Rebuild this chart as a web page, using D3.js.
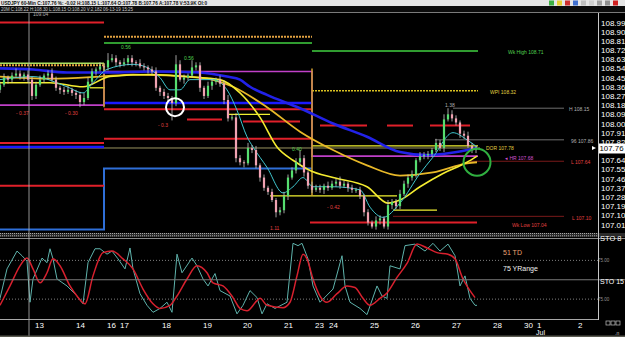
<!DOCTYPE html>
<html>
<head>
<meta charset="utf-8">
<style>
body { margin: 0; background: #000; }
svg { display: block; font-family: "Liberation Sans", Arial, sans-serif; }
</style>
</head>
<body>
<svg id="chart" width="625" height="337"></svg>
<script src="https://d3js.org/d3.v7.min.js"></script>
<script>
// ---- data (USDJPY 60 min, 2-hour steps) ----
const firstOpen = 108.33;
const closes = [
  108.38,108.45,108.43,108.47,108.49,108.46,108.48,108.43,108.27,108.38,
  108.43,108.47,108.49,108.43,108.35,108.33,108.31,108.33,108.30,108.28,
  108.21,108.25,108.41,108.51,108.53,108.56,108.55,108.62,108.64,108.60,
  108.58,108.60,108.64,108.60,108.59,108.56,108.55,108.53,108.51,108.35,
  108.31,108.27,108.25,108.20,108.58,108.43,108.45,108.47,108.55,108.57,
  108.35,108.27,108.37,108.41,108.43,108.39,108.23,108.05,108.06,107.66,
  107.62,107.61,107.76,107.74,107.59,107.47,107.37,107.33,107.25,107.13,
  107.15,107.29,107.47,107.54,107.62,107.66,107.52,107.39,107.35,107.37,
  107.35,107.39,107.37,107.41,107.43,107.39,107.41,107.37,107.35,107.35,
  107.29,107.13,107.03,106.99,107.05,107.07,106.99,107.20,107.23,107.19,
  107.31,107.41,107.47,107.50,107.64,107.68,107.69,107.70,107.74,107.81,
  107.76,108.04,108.09,108.05,108.01,107.90,107.88,107.78,107.74,107.76
];
// wicks in pips
const wickUp = [
  3,4,2,3,5,3,2,4,3,3, 4,2,3,5,3,2,3,4,2,3, 3,5,4,3,2,4,3,7,4,3,
  2,4,3,3,2,4,3,2,3,4, 2,3,3,2,9,4,3,2,7,3, 3,2,4,3,2,4,3,5,3,4,
  3,2,5,3,4,2,3,2,3,2, 3,4,3,3,4,8,3,2,4,3, 3,2,4,3,3,5,3,2,3,2,
  3,2,3,2,4,3,2,5,3,3, 4,3,3,4,2,4,3,3,2,4, 3,5,6,4,3,2,3,4,3,2
];
const wickDn = [
  3,2,4,3,2,3,4,3,4,3, 2,3,4,2,3,4,3,2,3,4, 5,3,2,3,4,2,3,3,2,4,
  3,2,3,4,3,2,3,4,3,3, 4,3,3,17,3,2,4,3,2,3, 4,3,2,4,3,3,4,3,2,4,
  3,4,2,3,3,4,3,3,2,5, 3,3,4,2,3,3,4,3,3,2, 3,4,3,2,3,3,2,4,3,3,
  3,4,3,2,3,4,2,3,4,3, 3,2,4,3,3,2,3,4,3,2, 3,4,2,3,3,4,3,2,3,3
];

// moving averages [bar, price]
const maBlue = [[0,108.54],[8.25,108.53],[16.75,108.50],[27.5,108.50],[37.5,108.51],[50,108.50],[56.75,108.46],[60,108.43],[62.5,108.36],[66.75,108.28],[75,108.15],[83.25,108.00],[91.75,107.87],[100,107.72],[106.75,107.69],[112.5,107.71],[119.25,107.76]];
const maGold = [[0,108.46],[12.5,108.44],[25,108.46],[33.25,108.48],[50,108.45],[58.25,108.36],[66.75,108.16],[75,107.92],[83.25,107.74],[91.75,107.59],[100,107.49],[108.25,107.52],[116.75,107.61],[119.25,107.62]];
const maYellow = [[0,108.40],[12.5,108.40],[20.75,108.36],[27.5,108.46],[37.5,108.48],[50,108.45],[55,108.43],[60,108.30],[65,108.06],[69.25,107.77],[73.25,107.64],[77.5,107.54],[83.25,107.47],[91.75,107.38],[97,107.22],[100,107.25],[105,107.38],[110.75,107.51],[116.75,107.62],[119.25,107.68]];
const maCyan = [[0,108.43],[8.25,108.46],[16.75,108.36],[20.75,108.30],[23.25,108.40],[26.75,108.53],[33.25,108.58],[36.75,108.55],[40,108.45],[42.5,108.33],[45,108.33],[47.5,108.43],[53.25,108.43],[56.75,108.33],[59.25,108.13],[61.75,107.87],[63.25,107.77],[66.75,107.57],[70.75,107.32],[73.25,107.38],[75.75,107.47],[78.25,107.38],[83.25,107.38],[90,107.35],[92.5,107.18],[95.75,107.08],[100,107.22],[105,107.51],[108.25,107.67],[113.25,107.91],[116.75,107.84],[119.25,107.77]];

// horizontal levels [fromBar, toBar, price]
const redLevels = [[0,26,108.99],[0,26,107.81],[0,26,107.39],[26,78,108.14],[26,78,107.85],[46.75,55.5,108.04],[60.75,75,108.02],[80,91.75,107.98],[96.75,103.25,107.98],[107.5,117.5,107.98],[77.5,119.25,107.03]];
const darkRedLevels = [[98.25,141,107.09],[117.5,141,107.63]];
const blueLevels = [[0,26,107.77],[26,78,108.20]];
const greenLevels = [[26,78,108.79],[78,119.5,108.71]];
const limeLevels = [[0,26,108.59]];
const orangeDotLevels = [[26,78,108.85],[0,26,108.57]];
const yellowDotLevels = [[78,119.5,108.32]];
const yellowLevels = [[56.75,67.5,108.09],[67.5,99.25,107.29],[98.25,109.25,107.15],[22.5,26.25,108.35],[78,119.5,107.78]];
const khakiLevels = [[0,120,107.76]];
const grayLevels = [[113.25,141,108.15],[108.75,141,107.84]];
const magentaStep = [[0,108.18],[26,108.51],[78,107.68],[119.5,107.68]];
const lightBlueStep = [[0,106.96],[26,107.56],[78,107.56]];
const orangeVerticals = [[26,108.59,108.16],[78,108.54,107.29]];

// text notes [bar, price, text, kind]
const notes = [
  [8.25,109.07,"109.04","gray"],[4,108.10,"- 0.37","red"],[16.25,108.10,"- 0.30","red"],
  [30.25,108.75,"0.56","green"],[46,108.64,"0.56","green"],[39.5,107.99,"- 0.3","red"],
  [73,107.75,"0.40","green"],[81.75,107.18,"- 0.42","red"],[67.5,106.98,"1.11","red"],
  [111.25,108.18,"1.38","gray"],[127,108.70,"Wk High 108.71","green"],
  [122.5,108.31,"WPI 108.32","yellow"],[142.25,108.14,"H 108.15","gray"],
  [142.75,107.83,"96 107.86","gray"],[121.5,107.76,"DOR 107.78","yellow"],
  [126.25,107.66,"\u25C2 HR 107.68","magenta"],[142.75,107.62,"L 107.64","red"],
  [143,107.07,"L 107.10","red"],[128,107.01,"Wk Low 107.04","red"]
];

// 107.73 sits behind the last-price tag in the reference
const priceTicks = [108.99,108.90,108.81,108.72,108.63,108.54,108.45,108.36,108.27,108.18,108.09,108.00,107.91,107.82,107.64,107.55,107.46,107.37,107.28,107.19,107.10,107.01];
const lastPrice = 107.76;

const dayTicks = [8.75,19,26.75,30,40.5,50.75,60.75,71,78.75,82.25,92.5,102.75,113,123.25,131,134.25,144.5];
const dayLabels = ["13","14","16","17","18","19","20","21","23","24","25","26","27","28","30","1","2"];
const crossBar = 7.25;

// stochastic [bar, value]
const stoFast = [[0,26],[1.75,64],[4.25,87],[5.5,81],[6.75,74],[7.5,21],[8.25,51],[10.5,78],[11.75,72],[12.5,90],[13.25,77],[14.25,51],[16.75,42],[19.25,29],[20.75,19],[22,72],[23.75,90],[25,90],[26.75,83],[28,87],[29.5,77],[31.25,64],[32.5,91],[33.25,64],[35,32],[36.75,17],[38.25,8],[40,13],[41.75,21],[43,8],[44.25,83],[45.5,59],[48,78],[49.25,68],[50.75,51],[52,42],[53.75,58],[55,36],[57.5,29],[59.25,6],[60.75,17],[62.5,36],[64.25,27],[65.5,6],[66.75,19],[68.75,13],[71.75,21],[73.25,97],[74.5,94],[75.5,97],[77,77],[78.25,42],[80,21],[83.25,38],[85.5,81],[86.25,42],[87.5,21],[90,13],[91.75,5],[94.25,42],[95.5,29],[96.75,26],[97.5,68],[100,64],[101.25,94],[103.75,96],[106.25,87],[108.25,97],[110,87],[112,96],[113.75,81],[115,42],[116.25,55],[117.5,26],[118.75,17],[119.25,17]];
const stoSlow = [[0,17],[2.5,42],[5,68],[6.75,78],[8.25,64],[10,46],[11.75,59],[13.25,77],[15,68],[17.5,42],[19.25,29],[21.25,19],[23.25,55],[25.75,85],[28,87],[30.75,77],[33.25,64],[35.75,38],[38.25,19],[40,13],[42.5,17],[44.25,29],[46.75,51],[49.25,68],[51.75,59],[53.25,46],[55.75,42],[58.25,27],[60,13],[61.75,10],[64.25,23],[65,26],[66.75,17],[70.75,14],[72.5,21],[74.25,55],[75.75,83],[76.75,77],[78.25,51],[80,29],[81.75,21],[84.25,32],[86.75,42],[88.75,40],[90.75,26],[92.5,17],[95,26],[96.75,33],[99.25,53],[101.75,71],[104.25,96],[106.75,91],[109.25,85],[112,83],[113.75,77],[115.75,51],[117.5,36],[118.75,27]];
const stoLevels = [75, 25];
const stoMid = 50;

const toolbarColors = ["#3cb043","#e8d030","#d03030","#4070d0","#c0c0c0","#d0d0d0","#a0a0a0","#909090","#d02020"];

// ---- scales ----
const svg = d3.select("#chart");
const axisX = 598;
const x = d3.scaleLinear().domain([0, 149.5]).range([0, axisX]);
const y = d3.scaleLinear().domain([107.01, 108.99]).range([224.5, 22.5]);
const yo = d3.scaleLinear().domain([0, 100]).range([318.5, 241]);

const noteColor = { red: "#e04040", green: "#50d050", gray: "#b0b0b0", yellow: "#e0d040", magenta: "#d050d0" };

svg.append("rect").attr("width", 625).attr("height", 337).attr("fill", "#000");

const defs = svg.append("defs");
defs.append("clipPath").attr("id", "mainclip").append("rect")
  .attr("x", 0).attr("y", 13).attr("width", axisX).attr("height", 220);
defs.append("clipPath").attr("id", "oscclip").append("rect")
  .attr("x", 0).attr("y", 240).attr("width", axisX).attr("height", 79);

const main = svg.append("g").attr("clip-path", "url(#mainclip)");
const osc = svg.append("g").attr("clip-path", "url(#oscclip)");

drawLevels();
drawMAs();
drawCandles();
drawNotes();
drawOsc();
drawAxes();
drawHeader();

function levelGroup(data, color, width, dash) {
  main.append("g").selectAll("line").data(data).enter().append("line")
    .attr("x1", d => x(d[0])).attr("x2", d => x(d[1]))
    .attr("y1", d => y(d[2])).attr("y2", d => y(d[2]))
    .attr("stroke", color).attr("stroke-width", width)
    .attr("stroke-dasharray", dash || null);
}

function drawLevels() {
  const step = d3.line().x(d => x(d[0])).y(d => y(d[1])).curve(d3.curveStepAfter);
  main.append("path").datum(lightBlueStep).attr("d", step)
    .attr("fill", "none").attr("stroke", "#2f6fd8").attr("stroke-width", 2);
  main.append("path").datum(magentaStep).attr("d", step)
    .attr("fill", "none").attr("stroke", "#c040c8").attr("stroke-width", 1.6);

  levelGroup(khakiLevels, "#9a9460", 1);
  levelGroup(grayLevels, "#8c8c8c", 0.8);
  levelGroup(darkRedLevels, "#7a1a1a", 1);
  levelGroup(blueLevels, "#1a1aff", 2.5);
  levelGroup(redLevels, "#e0202a", 2);
  levelGroup(greenLevels, "#40d040", 1.5);
  levelGroup(limeLevels, "#a8e060", 1.5);
  levelGroup(orangeDotLevels, "#e0a040", 2, "2,1");
  levelGroup(yellowDotLevels, "#d8c020", 1.5, "2,1");
  levelGroup(yellowLevels, "#f0f030", 1.3);

  main.append("g").selectAll("line").data(orangeVerticals).enter().append("line")
    .attr("x1", d => x(d[0])).attr("x2", d => x(d[0]))
    .attr("y1", d => y(d[1])).attr("y2", d => y(d[2]))
    .attr("stroke", "#d0a030").attr("stroke-width", 1.5);
}

function drawMAs() {
  const smooth = d3.line().x(d => x(d[0])).y(d => y(d[1])).curve(d3.curveMonotoneX);
  main.append("path").datum(maBlue).attr("d", smooth)
    .attr("fill", "none").attr("stroke", "#2222e8").attr("stroke-width", 2.6);
  main.append("path").datum(maGold).attr("d", smooth)
    .attr("fill", "none").attr("stroke", "#e8b828").attr("stroke-width", 1.8);
  main.append("path").datum(maYellow).attr("d", smooth)
    .attr("fill", "none").attr("stroke", "#f4ec30").attr("stroke-width", 1.6);
  main.append("path").datum(maCyan).attr("d", smooth)
    .attr("fill", "none").attr("stroke", "#40c8d0").attr("stroke-width", 1);
}

function drawCandles() {
  const bars = closes.map((c, i) => {
    const o = i === 0 ? firstOpen : closes[i - 1];
    return { i: i, o: o, c: c,
      h: Math.max(o, c) + wickUp[i] / 100,
      l: Math.min(o, c) - wickDn[i] / 100 };
  });
  const col = d => d.c >= d.o ? "#56de70" : "#f0a2b2";
  const g = main.append("g");
  g.selectAll("line").data(bars).enter().append("line")
    .attr("x1", d => x(d.i)).attr("x2", d => x(d.i))
    .attr("y1", d => y(d.h)).attr("y2", d => y(d.l))
    .attr("stroke", "#c8c8c8").attr("stroke-width", 0.8);
  g.selectAll("rect").data(bars).enter().append("rect")
    .attr("x", d => x(d.i) - 1.1).attr("width", 2.2)
    .attr("y", d => y(Math.max(d.o, d.c)))
    .attr("height", d => Math.max(1, Math.abs(y(d.o) - y(d.c))))
    .attr("fill", col);

  // highlight circles
  main.append("circle").attr("cx", x(43.75)).attr("cy", y(108.16)).attr("r", 9)
    .attr("fill", "none").attr("stroke", "#fff").attr("stroke-width", 2);
  main.append("circle").attr("cx", x(119.25)).attr("cy", y(107.62)).attr("r", 13.5)
    .attr("fill", "none").attr("stroke", "#30b040").attr("stroke-width", 2);
}

function drawNotes() {
  svg.append("g").selectAll("text").data(notes).enter().append("text")
    .attr("x", d => x(d[0])).attr("y", d => y(d[1]) + 2)
    .attr("font-size", "5px")
    .attr("fill", d => noteColor[d[3]])
    .text(d => d[2]);
}

function drawOsc() {
  // separator band
  svg.append("rect").attr("x", 0).attr("y", 233).attr("width", 625).attr("height", 4).attr("fill", "#2a2a2a");
  [233.5, 235.8].forEach(v => svg.append("line").attr("x1", 0).attr("x2", axisX).attr("y1", v).attr("y2", v)
    .attr("stroke", "#a8a8a8").attr("stroke-width", 1).attr("stroke-dasharray", "1,1"));
  svg.append("line").attr("x1", 0).attr("x2", 625).attr("y1", 238.5).attr("y2", 238.5)
    .attr("stroke", "#8a8a8a").attr("stroke-width", 1);

  osc.selectAll("line.lv").data(stoLevels).enter().append("line")
    .attr("x1", 0).attr("x2", axisX)
    .attr("y1", d => yo(d)).attr("y2", d => yo(d))
    .attr("stroke", "#a0a0a0").attr("stroke-width", 0.8).attr("stroke-dasharray", "1,2");
  svg.append("line").attr("x1", 0).attr("x2", 625)
    .attr("y1", yo(stoMid)).attr("y2", yo(stoMid))
    .attr("stroke", "#7a7a7a").attr("stroke-width", 1);

  const lf = d3.line().x(d => x(d[0])).y(d => yo(d[1])).curve(d3.curveLinear);
  const ls = d3.line().x(d => x(d[0])).y(d => yo(d[1])).curve(d3.curveMonotoneX);
  osc.append("path").datum(stoFast).attr("d", lf)
    .attr("fill", "none").attr("stroke", "#5fb3ac").attr("stroke-width", 1);
  osc.append("path").datum(stoSlow).attr("d", ls)
    .attr("fill", "none").attr("stroke", "#d8202e").attr("stroke-width", 1.5);

  svg.append("text").attr("x", 503).attr("y", 255).attr("font-size", "7px")
    .attr("fill", "#e8a070").text("51 TD");
  svg.append("text").attr("x", 503).attr("y", 271).attr("font-size", "7px")
    .attr("fill", "#f0f0f0").text("75 YRange");

  svg.append("text").attr("x", 600).attr("y", 241).attr("font-size", "7.5px").attr("fill", "#fff").text("STO 8");
  svg.append("text").attr("x", 600).attr("y", 284).attr("font-size", "7.5px").attr("fill", "#fff")
    .attr("textLength", 24).attr("lengthAdjust", "spacingAndGlyphs").text("STO 15");
  stoLevels.forEach(v => svg.append("text").attr("x", 598).attr("y", yo(v) + 2)
    .attr("font-size", "4.5px").attr("fill", "#909090").text("75.00"));
}

function drawAxes() {
  // price axis
  svg.append("line").attr("x1", axisX + 0.5).attr("x2", axisX + 0.5).attr("y1", 13).attr("y2", 320)
    .attr("stroke", "#c8c8c8").attr("stroke-width", 1);
  svg.append("g").selectAll("text").data(priceTicks).enter().append("text")
    .attr("x", 601).attr("y", d => y(d) + 3)
    .attr("font-size", "8px").attr("fill", "#fff")
    .text(d => d.toFixed(2));
  const ly = y(lastPrice);
  svg.append("rect").attr("x", 599).attr("y", ly - 4.5).attr("width", 26).attr("height", 10).attr("fill", "#fff");
  svg.append("text").attr("x", 599.5).attr("y", ly + 3.5).attr("font-size", "8px")
    .attr("fill", "#000").attr("textLength", 24).attr("lengthAdjust", "spacingAndGlyphs")
    .text(lastPrice.toFixed(2));
  svg.append("path").attr("d", `M592,${ly - 2} L596,${ly} L592,${ly + 2} Z`).attr("fill", "#fff");

  // crosshair
  svg.append("line").attr("x1", x(crossBar)).attr("x2", x(crossBar)).attr("y1", 13).attr("y2", 337)
    .attr("stroke", "#b8b8b8").attr("stroke-width", 0.8);

  // time axis
  svg.append("line").attr("x1", 0).attr("x2", axisX).attr("y1", 319.5).attr("y2", 319.5)
    .attr("stroke", "#a8a8a8").attr("stroke-width", 1);
  svg.append("g").selectAll("text").data(dayTicks).enter().append("text")
    .attr("x", d => x(d)).attr("y", 327.5)
    .attr("font-size", "8px").attr("fill", "#fff")
    .text((d, i) => dayLabels[i]);
  svg.append("text").attr("x", x(134.25) - 1).attr("y", 335).attr("font-size", "7px").attr("fill", "#fff").text("Jul");
  [606, 611, 616].forEach(v => svg.append("rect").attr("x", v).attr("y", 321).attr("width", 4).attr("height", 4)
    .attr("fill", "none").attr("stroke", "#c0c0c0").attr("stroke-width", 0.7));
  svg.append("text").attr("x", 615).attr("y", 335).attr("font-size", "5px").attr("fill", "#c0c0c0").text(".n");
  svg.append("rect").attr("x", 0).attr("y", 335.5).attr("width", 625).attr("height", 1.5).attr("fill", "#5a5a50");
}

function drawHeader() {
  svg.append("rect").attr("x", 0).attr("y", 0).attr("width", 625).attr("height", 6).attr("fill", "#e6e6e6");
  svg.append("text").attr("x", 1).attr("y", 5).attr("font-size", "5.5px").attr("font-weight", "bold")
    .attr("fill", "#111").attr("textLength", 206).attr("lengthAdjust", "spacingAndGlyphs")
    .text("USDJPY 60-Min  C:107.76  %: -0.02  H:108.15  L:107.64  O:107.78  B:107.76  A:107.78  V:53.9K  OI:0");
  svg.append("rect").attr("x", 0).attr("y", 6).attr("width", 625).attr("height", 6).attr("fill", "#0c0c0c");
  svg.append("text").attr("x", 1).attr("y", 11).attr("font-size", "5px")
    .attr("fill", "#c8c8c8").attr("textLength", 132).attr("lengthAdjust", "spacingAndGlyphs")
    .text("20M C:108.22 H:108.30 L:108.15 O:108.20 V:2,182 06-13-19 15:25");
  svg.append("line").attr("x1", 0).attr("x2", 625).attr("y1", 12.5).attr("y2", 12.5)
    .attr("stroke", "#9a9a9a").attr("stroke-width", 0.8);
  svg.append("g").selectAll("rect").data(toolbarColors).enter().append("rect")
    .attr("x", (d, i) => 549 + i * 8).attr("y", 0.5).attr("width", 5).attr("height", 5)
    .attr("fill", d => d);
}
</script>
</body>
</html>
